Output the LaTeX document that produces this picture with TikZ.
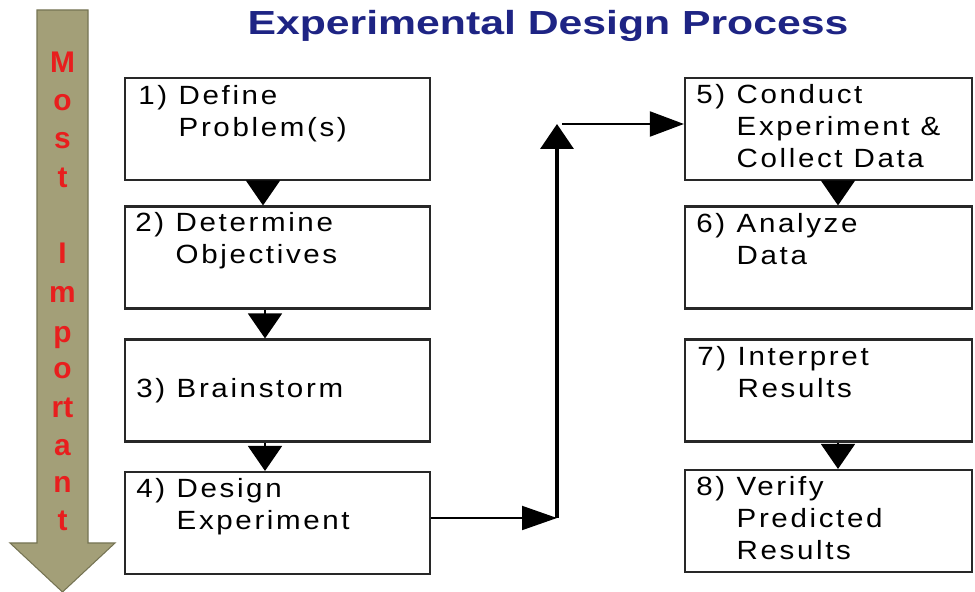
\documentclass[tikz,border=0pt]{standalone}
\usepackage{fontspec}
\usepackage{tikz}
\usetikzlibrary{arrows.meta}
\usetikzlibrary{positioning}

\newfontfamily\boxfont[FakeStretch=1.12,LetterSpace=10]{Liberation Sans}
\newfontfamily\titlefont[FakeStretch=1.28]{Liberation Sans}
\newfontfamily\sidefont{Liberation Sans}

\definecolor{khaki}{RGB}{163,159,120}
\definecolor{khakiedge}{RGB}{118,116,84}
\definecolor{sidered}{RGB}{232,30,30}
\definecolor{titleblue}{RGB}{30,36,132}
\definecolor{boxgray}{RGB}{40,40,40}

\newcommand{\hang}[1]{\begin{tabular}[t]{@{}l@{\hspace{0.23cm}}l@{}}#1\end{tabular}}

\begin{document}
\begin{tikzpicture}[
    stage/.style = {draw=boxgray, line width=1.2pt, minimum width=6.1cm,
                    minimum height=2.04cm, inner sep=0pt},
    widestage/.style = {stage, minimum width=5.74cm},
    stagetext/.style = {anchor=base west, inner sep=0pt,
                        font=\boxfont\fontsize{15}{18.2}\selectfont},
    downarrow/.style = {line width=1pt, -{Triangle[width=0.68cm,length=0.5cm]}},
    flowline/.style = {line width=1.1pt},
    sideletter/.style = {anchor=base, inner sep=0pt, text=sidered,
                         font=\sidefont\bfseries\fontsize{17}{17}\selectfont}
]
    \useasboundingbox (0,0) rectangle (19.5,-11.84);

    % title
    \node[anchor=base, inner sep=0pt, text=titleblue,
          font=\titlefont\bfseries\fontsize{19}{19}\selectfont] (title) at (10.96,-0.7)
          {Experimental Design Process};

    % importance arrow
    \filldraw[fill=khaki, draw=khakiedge, line width=0.6pt]
        (0.74,-0.2) -- (1.76,-0.2) -- (1.76,-10.86) -- (2.3,-10.86)
        -- (1.25,-11.84) -- (0.2,-10.86) -- (0.74,-10.86) -- cycle;
    \foreach \ch/\yy [count=\k] in {M/72, o/110, s/148, t/187, I/263, m/302,
                                    p/342, o/378, rt/417, a/455, n/492, t/530}
        \node[sideletter] (side\k) at (1.25,{-0.02*\yy}) {\ch};

    % left column
    \node[stage] (b1) at (5.55,-2.58) {};
    \node[stage] (b2) at (5.55,-5.15) {};
    \node[stage] (b3) at (5.55,-7.81) {};
    \node[stage] (b4) at (5.55,-10.46) {};

    % right column
    \node[widestage] (b5) at (16.57,-2.58) {};
    \node[widestage] (b6) at (16.57,-5.15) {};
    \node[widestage] (b7) at (16.57,-7.81) {};
    \node[widestage] (b8) at (16.57,-10.42) {};

    % step texts
    \node[stagetext] (t1) at ([shift={(0.28,-0.55)}]b1.north west) {\hang{1) & Define\\ & Problem(s)}};
    \node[stagetext] (t2) at ([shift={(0.22,-0.53)}]b2.north west) {\hang{2) & Determine\\ & Objectives}};
    \node[stagetext] (t3) at ([shift={(0.24,-0.15)}]b3.west) {\hang{3) & Brainstorm}};
    \node[stagetext] (t4) at ([shift={(0.24,-0.54)}]b4.north west) {\hang{4) & Design\\ & Experiment}};
    \node[stagetext] (t5) at ([shift={(0.24,-0.54)}]b5.north west) {\hang{5) & Conduct\\ & Experiment \&\\ & Collect Data}};
    \node[stagetext] (t6) at ([shift={(0.24,-0.54)}]b6.north west) {\hang{6) & Analyze\\ & Data}};
    \node[stagetext] (t7) at ([shift={(0.26,-0.54)}]b7.north west) {\hang{7) & Interpret\\ & Results}};
    \node[stagetext] (t8) at ([shift={(0.24,-0.54)}]b8.north west) {\hang{8) & Verify\\ & Predicted\\ & Results}};

    % arrows between steps
    \draw[downarrow] ([xshift=-0.29cm]b1.south) -- ([xshift=-0.29cm]b2.north);
    \draw[downarrow] ([xshift=-0.25cm]b2.south) -- ([xshift=-0.25cm]b3.north);
    \draw[downarrow] ([xshift=-0.25cm]b3.south) -- ([xshift=-0.25cm]b4.north);
    \draw[downarrow] ([xshift=0.19cm]b5.south) -- ([xshift=0.19cm]b6.north);
    \draw[downarrow] ([xshift=0.19cm]b7.south) -- ([xshift=0.19cm]b8.north);

    % link from 4 to 5
    \coordinate (lowbend) at (11.14,-10.36);
    \coordinate (highbend) at (11.14,-2.48);
    \draw[flowline, -{Triangle[width=0.48cm,length=0.7cm]}] (b4.east |- lowbend) -- (lowbend);
    \draw[line width=2pt, -{Triangle[width=0.66cm,length=0.5cm]}] (lowbend) -- (highbend);
    \draw[flowline, -{Triangle[width=0.5cm,length=0.68cm]}] ([xshift=0.1cm]highbend) -- (highbend -| b5.west);
\end{tikzpicture}
\end{document}
